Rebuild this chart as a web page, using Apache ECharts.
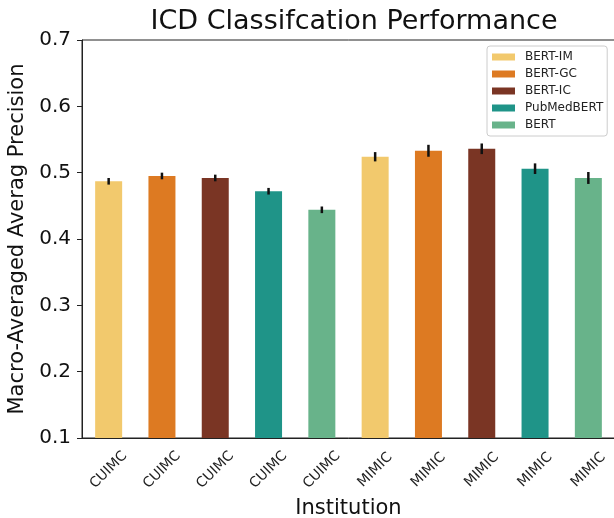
<!DOCTYPE html>
<html>
<head>
<meta charset="utf-8">
<script src="https://cdn.jsdelivr.net/npm/echarts@6/dist/echarts.min.js"></script>
<style>
  html, body { margin: 0; padding: 0; background: #fff; }
  #chart { width: 614px; height: 518px; }
</style>
</head>
<body>
<div id="chart"></div>
<script>
// values
const categories = ['CUIMC', 'CUIMC', 'CUIMC', 'CUIMC', 'CUIMC', 'MIMIC', 'MIMIC', 'MIMIC', 'MIMIC', 'MIMIC'];
const models = ['BERT-IM', 'BERT-GC', 'BERT-IC', 'PubMedBERT', 'BERT'];
const colors = ['#F2C96D', '#DD7A22', '#7A3524', '#1F9488', '#68B38A'];
const cuimcValues = [0.487, 0.495, 0.492, 0.472, 0.444];
const mimicValues = [0.524, 0.533, 0.536, 0.506, 0.492];
const cuimcErrors = [0.005, 0.005, 0.005, 0.005, 0.005];
const mimicErrors = [0.007, 0.009, 0.008, 0.008, 0.009];
const yTicks = [0.1, 0.2, 0.3, 0.4, 0.5, 0.6, 0.7];

const font = 'DejaVu Sans';
const allValues = cuimcValues.concat(mimicValues);
const allErrors = cuimcErrors.concat(mimicErrors);

const barSeries = models.map((name, m) => {
    const data = categories.map(() => '-');
    data[m] = cuimcValues[m];
    data[m + 5] = mimicValues[m];
    return {
        name: name,
        type: 'bar',
        data: data,
        barWidth: 27,
        barGap: '-100%',
        itemStyle: { color: colors[m] }
    };
});

const errorSeries = {
    type: 'custom',
    name: 'err',
    data: allValues.map((v, i) => [i, v - allErrors[i], v + allErrors[i]]),
    renderItem: function (params, api) {
        const lo = api.coord([api.value(0), api.value(1)]);
        const hi = api.coord([api.value(0), api.value(2)]);
        return {
            type: 'line',
            shape: { x1: lo[0], y1: lo[1], x2: hi[0], y2: hi[1] },
            style: { stroke: '#111', lineWidth: 2.5 }
        };
    },
    z: 10,
    silent: true
};

const chart = echarts.init(document.getElementById('chart'));
chart.setOption({
    animation: false,
    backgroundColor: '#fff',
    title: {
        text: 'ICD Classifcation Performance',
        left: 349,
        top: 3,
        textAlign: 'center',
        textStyle: { fontFamily: font, fontSize: 27, fontWeight: 'normal', color: '#111' }
    },
    legend: {
        data: models,
        orient: 'vertical',
        left: 487,
        top: 46,
        icon: 'rect',
        itemWidth: 23,
        itemHeight: 7,
        itemGap: 5,
        padding: [5, 4, 5, 5],
        backgroundColor: '#fff',
        borderColor: '#ccc',
        borderWidth: 1,
        borderRadius: 3,
        textStyle: { fontFamily: font, fontSize: 12, color: '#222', padding: [0, 0, 0, 5] }
    },
    grid: {
        left: 82, top: 40, width: 533, height: 398,
        outerBoundsMode: 'none',
        containLabel: false,
        show: true, borderColor: '#222', borderWidth: 1, backgroundColor: 'transparent'
    },
    xAxis: {
        type: 'category',
        data: categories,
        name: 'Institution',
        nameLocation: 'middle',
        nameGap: 58,
        nameTextStyle: { fontFamily: font, fontSize: 21, color: '#111' },
        axisLine: { lineStyle: { color: '#222' } },
        axisTick: { alignWithLabel: true, length: 5, lineStyle: { color: '#222' } },
        axisLabel: {
            interval: 0, rotate: 45, margin: 32, align: 'center', verticalAlign: 'middle',
            fontFamily: font, fontSize: 14, color: '#222'
        }
    },
    yAxis: {
        type: 'value',
        min: yTicks[0],
        max: yTicks[yTicks.length - 1],
        interval: 0.1,
        name: 'Macro-Averaged Averag Precision',
        nameLocation: 'middle',
        nameGap: 52,
        nameTextStyle: { fontFamily: font, fontSize: 21, color: '#111' },
        axisLine: { show: true, lineStyle: { color: '#222' } },
        axisTick: { show: true, length: 5, lineStyle: { color: '#222' } },
        splitLine: { show: false },
        axisLabel: {
            fontFamily: font, fontSize: 20, color: '#111', margin: 11,
            formatter: v => v.toFixed(1)
        }
    },
    series: barSeries.concat([errorSeries])
});
</script>
</body>
</html>
